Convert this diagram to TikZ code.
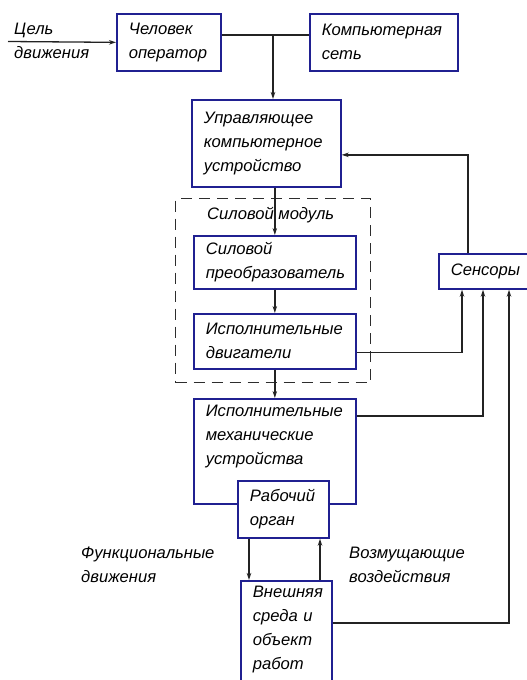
\documentclass[tikz,border=0pt]{standalone}
\usepackage{fontspec}
\setmainfont{Liberation Sans}
\usetikzlibrary{arrows.meta}

\definecolor{boxblue}{RGB}{32,32,145}
\definecolor{wire}{RGB}{35,35,35}

\tikzset{
  unit/.style={draw=boxblue, line width=1.7pt, fill=white, anchor=north west,
    align=left, inner xsep=12pt, inner ysep=4pt,
    font=\itshape\fontsize{16.6}{24}\selectfont},
  freetext/.style={anchor=west, align=left, inner sep=0pt,
    font=\itshape\fontsize{16.6}{24}\selectfont},
  flow/.style={draw=wire, line width=1.3pt, -{Stealth[length=7pt,width=4.5pt]}},
  link/.style={draw=wire, line width=1.3pt},
  modulebox/.style={draw=gray!35!black, line width=1.3pt, dash pattern=on 11pt off 7pt, anchor=north west}
}

\begin{document}
\begin{tikzpicture}[x=1pt,y=-1pt]
\useasboundingbox (0,0) rectangle (527,680);
\clip (0,0) rectangle (527,680);

% Operator, network and control computer
\node[freetext] (goal) at (14,41) {Цель\\движения};
\node[unit, minimum width=104pt, minimum height=57pt, text width=80pt] (oper) at (116,13) {Человек\\оператор};
\node[unit, minimum width=148pt, minimum height=57pt, text width=124pt] (net) at (309,13) {Компьютерная\\сеть};
\node[unit, minimum width=149pt, minimum height=87pt, text width=125pt] (ctrl) at (191,99) {Управляющее\\компьютерное\\устройство};

% Power module with its two blocks
\node[modulebox, minimum width=195pt, minimum height=184pt] (module) at (175,198) {};
\node[freetext] (modlabel) at (207,215) {Силовой модуль};
\node[unit, minimum width=162pt, minimum height=53pt, text width=138pt] (conv) at (193,235) {Силовой\\преобразователь};
\node[unit, minimum width=162pt, minimum height=55pt, text width=138pt] (motor) at (193,313) {Исполнительные\\двигатели};

% Sensors
\node[unit, minimum width=95pt, minimum height=35pt, text width=71pt] (sensors) at (438,253) {Сенсоры};

% Mechanics, tool and environment
\node[unit, minimum width=162pt, text width=138pt, text height=14pt, text depth=83pt] (mech) at (193,398) {Исполнительные\\механические\\устройства};
\node[unit, minimum width=91pt, minimum height=57pt, text width=67pt] (tool) at (237,480) {Рабочий\\орган};
\node[unit, minimum width=91pt, text width=67pt, text height=13pt, text depth=94pt] (env) at (240,580) {Внешняя\\среда и\\объект\\работ};
\node[freetext] (func) at (81,565) {Функциональные\\движения};
\node[freetext] (dist) at (349,565) {Возмущающие\\воздействия};

% Connectors
\coordinate (goalstart) at (8,41.5);
\coordinate (junc) at (273,35);
\draw[flow] (goalstart) -- (oper.west);
\draw[link] (oper.east |- junc) -- (net.west |- junc);
\draw[flow] (junc) -- (junc |- ctrl.north);
\draw[flow] (ctrl.south -| conv.north) -- (conv.north);
\draw[flow] (conv.south) -- (motor.north);
\draw[flow] (motor.south) -- (mech.north);

% Feedback through the sensors
\draw[flow] ([yshift=-11pt]motor.east) -| ([xshift=24pt]sensors.south west);
\draw[flow] ([yshift=-18pt]mech.north east) -| ([xshift=45pt]sensors.south west);
\draw[flow] ([yshift=-43pt]env.north east) -| ([xshift=71pt]sensors.south west);
\draw[flow] ([xshift=30pt]sensors.north west) |- ([yshift=-11.5pt]ctrl.east);

% Tool and environment
\coordinate (funcdown) at ([xshift=12pt]tool.south west);
\coordinate (distup) at ([xshift=80pt]env.north west);
\draw[flow] (funcdown) -- (funcdown |- env.north);
\draw[flow] (distup) -- (distup |- tool.south);

\end{tikzpicture}
\end{document}
